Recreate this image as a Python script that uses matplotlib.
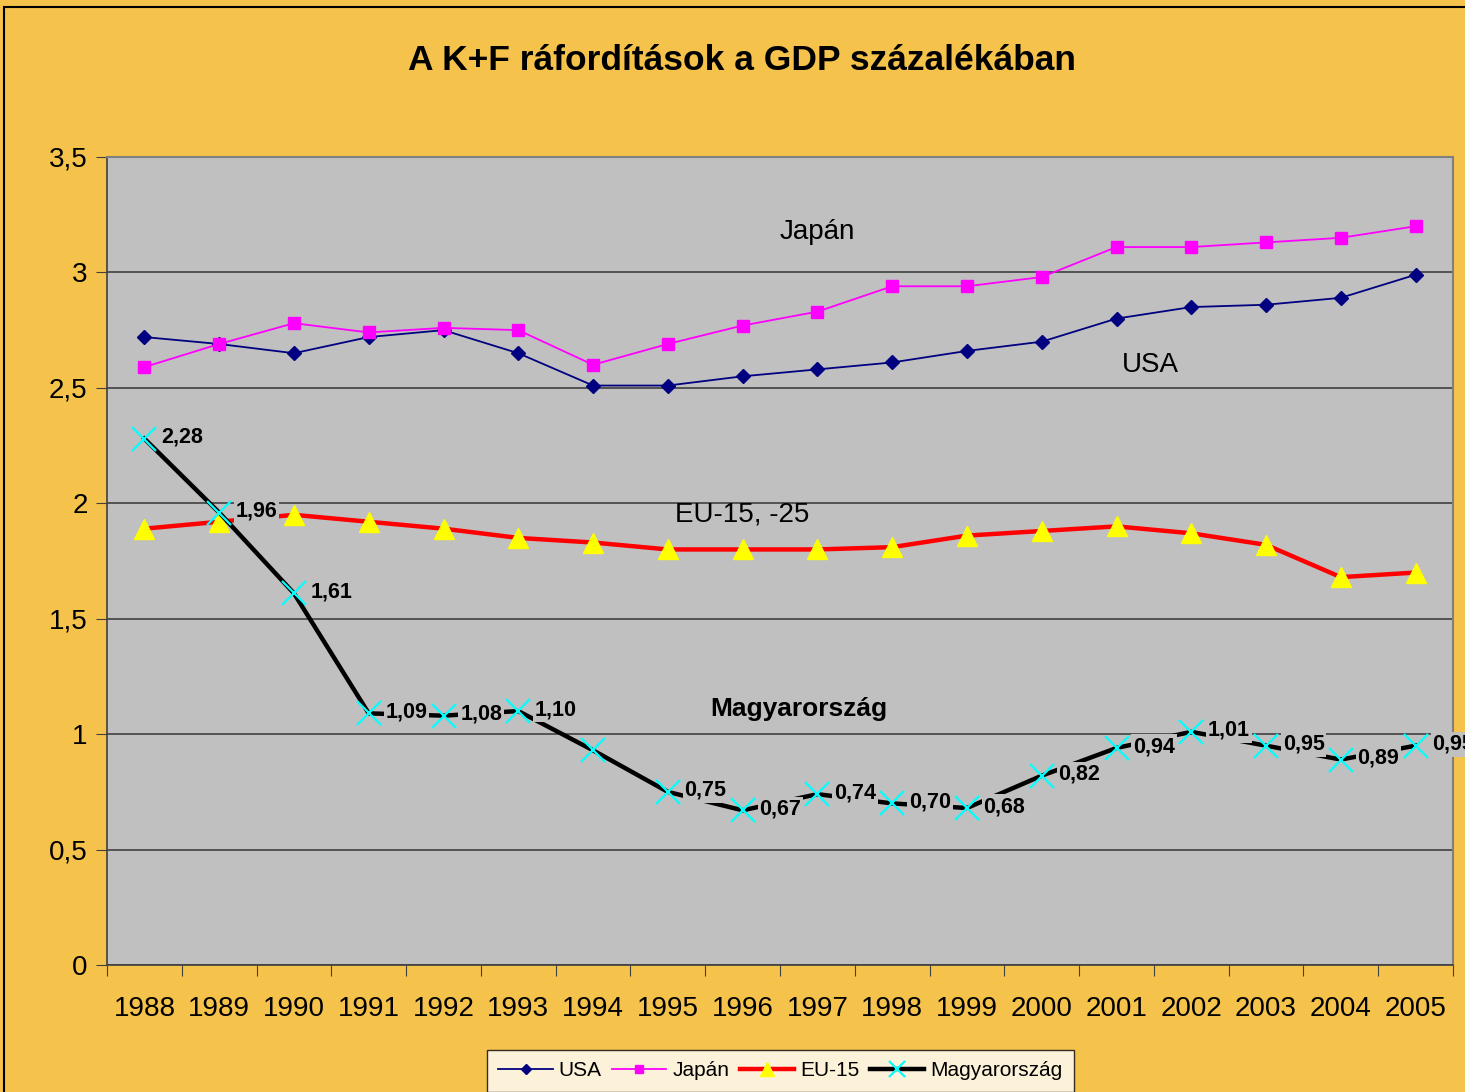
import matplotlib.pyplot as plt
from matplotlib.patches import Rectangle
import numpy as np

plt.rcParams['font.family'] = ['Liberation Sans', 'DejaVu Sans']

years = ['1988', '1989', '1990', '1991', '1992', '1993', '1994', '1995', '1996',
         '1997', '1998', '1999', '2000', '2001', '2002', '2003', '2004', '2005']

usa = [2.72, 2.69, 2.65, 2.72, 2.75, 2.65, 2.51, 2.51, 2.55,
       2.58, 2.61, 2.66, 2.70, 2.80, 2.85, 2.86, 2.89, 2.99]
japan = [2.59, 2.69, 2.78, 2.74, 2.76, 2.75, 2.60, 2.69, 2.77,
         2.83, 2.94, 2.94, 2.98, 3.11, 3.11, 3.13, 3.15, 3.20]
eu15 = [1.89, 1.92, 1.95, 1.92, 1.89, 1.85, 1.83, 1.80, 1.80,
        1.80, 1.81, 1.86, 1.88, 1.90, 1.87, 1.82, 1.68, 1.70]
hungary = [2.28, 1.96, 1.61, 1.09, 1.08, 1.10, 0.93, 0.75, 0.67,
           0.74, 0.70, 0.68, 0.82, 0.94, 1.01, 0.95, 0.89, 0.95]
# 1994 has no data label in the original
hungary_labeled = [True] * 6 + [False] + [True] * 11

bg = '#F5C24B'
plot_bg = '#C0C0C0'

fig = plt.figure(figsize=(14.65, 10.92), dpi=100, facecolor=bg)
ax = fig.add_axes([0.07304, 0.11630, 0.99181 - 0.07304, 0.85623 - 0.11630])
ax.set_facecolor(plot_bg)

# outer frame (only top and left edges visible)
fig.patches.append(Rectangle((4 / 1465, -0.05), 1.2, 1 - 7 / 1092 + 0.05,
                             transform=fig.transFigure, fill=False,
                             edgecolor='black', linewidth=1.5))

x = np.arange(len(years))

ax.plot(x, usa, color='#000080', lw=1.3, marker='D', ms=7,
        mfc='#000080', mec='#000080', label='USA', zorder=3)
ax.plot(x, japan, color='#FF00FF', lw=1.3, marker='s', ms=8,
        mfc='#FF00FF', mec='#FF00FF', label='Japán', zorder=3)
ax.plot(x, eu15, color='#FF0000', lw=3.2, marker='^', ms=15,
        mfc='#FFFF00', mec='#FFFF00', label='EU-15', zorder=4)
ax.plot(x, hungary, color='black', lw=3.2, marker='x', ms=17, mew=1.6,
        mec='#00FFFF', label='Magyarország', zorder=5)

for xi, v, show in zip(x, hungary, hungary_labeled):
    if not show:
        continue
    ax.annotate(f'{v:.2f}'.replace('.', ','), (xi, v), xytext=(12, 1),
                textcoords='offset points', ha='left', va='center',
                fontsize=15.5, fontweight='bold', zorder=6,
                bbox=dict(boxstyle='square,pad=0.08', fc=plot_bg, ec='none'))

# series name labels inside the plot
ax.text(9, 3.175, 'Japán', fontsize=20, ha='center', va='center')
ax.text(13.45, 2.6, 'USA', fontsize=20, ha='center', va='center')
ax.text(8, 1.95, 'EU-15, -25', fontsize=20, ha='center', va='center')
ax.text(8.75, 1.11, 'Magyarország', fontsize=19, fontweight='bold',
        ha='center', va='center')

ax.set_xlim(-0.5, len(years) - 0.5)
ax.set_ylim(0, 3.5)
yt = np.arange(0, 3.51, 0.5)
ax.set_yticks(yt)
ax.set_yticklabels(['0', '0,5', '1', '1,5', '2', '2,5', '3', '3,5'], fontsize=20)
ax.set_xticks(np.arange(-0.5, len(years), 1))
ax.set_xticklabels([])
ax.set_xticks(x, minor=True)
ax.set_xticklabels(years, minor=True, fontsize=20)
ax.tick_params(axis='x', which='major', length=8, direction='out', color='#404040')
ax.tick_params(axis='x', which='minor', length=0, pad=22)
ax.tick_params(axis='y', length=8, direction='out', color='#404040', pad=6)

ax.grid(axis='y', color='#404040', lw=1.2)
ax.set_axisbelow(True)
for s in ['top', 'right']:
    ax.spines[s].set_color('#808080')
    ax.spines[s].set_linewidth(1.5)
ax.spines['left'].set_color('#404040')
ax.spines['bottom'].set_color('#404040')
ax.spines['left'].set_linewidth(1.2)
ax.spines['bottom'].set_linewidth(1.2)

fig.text(742 / 1465, 1 - 60 / 1092, 'A K+F ráfordítások a GDP százalékában',
         fontsize=25.5, fontweight='bold', ha='center', va='center')

leg = fig.legend(loc='upper left', bbox_to_anchor=(487 / 1465, 1 - 1050 / 1092),
                 ncol=4, fontsize=15, frameon=True, fancybox=False,
                 edgecolor='black', handlelength=2.6, handletextpad=0.3,
                 columnspacing=0.5, borderpad=0.55, borderaxespad=0,
                 markerscale=0.7)
leg.get_frame().set_linewidth(1.0)

fig.savefig('out.png', dpi=100, facecolor=bg)
